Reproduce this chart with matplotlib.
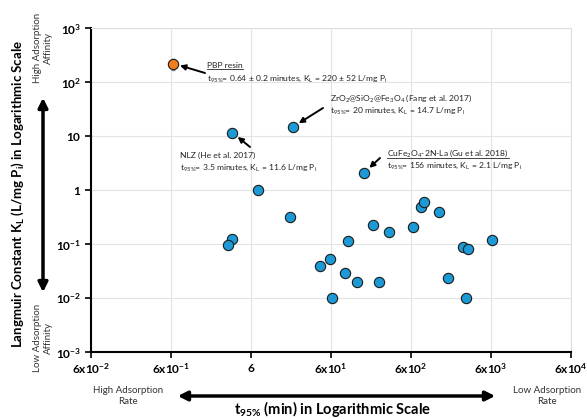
import numpy as np
import matplotlib
matplotlib.use("Agg")
import matplotlib.pyplot as plt
from matplotlib.patches import FancyArrowPatch
from matplotlib.lines import Line2D

plt.rcParams['font.family'] = ['Lato', 'DejaVu Sans']
plt.rcParams['mathtext.fontset'] = 'custom'
plt.rcParams['mathtext.rm'] = 'Lato'
plt.rcParams['mathtext.it'] = 'Lato:italic'
plt.rcParams['mathtext.bf'] = 'Lato:bold'

# datos
t95_lit = [3.5, 20, 156, 7.3, 18.7, 3.5, 3.1, 790, 880, 1330, 200, 316, 630, 99,
           6200, 2700, 3070, 59, 44, 90, 128, 237, 1720, 62, 2950]
kl_lit = [11.6, 14.7, 2.1, 1.0, 0.31, 0.122, 0.096, 0.48, 0.60, 0.39, 0.225, 0.167,
          0.21, 0.112, 0.117, 0.088, 0.081, 0.052, 0.039, 0.029, 0.0195, 0.0195,
          0.023, 0.01, 0.01]

t95_pbp = [0.64]
kl_pbp = [220]
kl_pbp_err = [52]

xticks = [6e-2, 6e-1, 6, 6e1, 6e2, 6e3, 6e4]
xticklabels = [r'$\mathbf{6x10^{-2}}$', r'$\mathbf{6x10^{-1}}$', r'$\mathbf{6}$',
               r'$\mathbf{6x10^{1}}$', r'$\mathbf{6x10^{2}}$', r'$\mathbf{6x10^{3}}$',
               r'$\mathbf{6x10^{4}}$']
yticks = [1e-3, 1e-2, 1e-1, 1, 10, 1e2, 1e3]
yticklabels = [r'$\mathbf{10^{-3}}$', r'$\mathbf{10^{-2}}$', r'$\mathbf{10^{-1}}$',
               r'$\mathbf{1}$', r'$\mathbf{10}$', r'$\mathbf{10^{2}}$', r'$\mathbf{10^{3}}$']

fig = plt.figure(figsize=(5.87, 4.19), dpi=100)
ax = fig.add_axes([91/587, 1-352/419, 480/587, 324/419])

ax.set_xscale('log')
ax.set_yscale('log')
ax.set_xlim(6e-2, 6e4)
ax.set_ylim(1e-3, 1e3)
ax.set_xticks(xticks)
ax.set_xticklabels(xticklabels, fontsize=8.6)
ax.set_yticks(yticks)
ax.set_yticklabels(yticklabels, fontsize=8.6)
ax.minorticks_off()
ax.grid(True, color='#e3e3e3', lw=0.8)
ax.set_axisbelow(True)
for s in ['top', 'right']:
    ax.spines[s].set_color('#dddddd')
    ax.spines[s].set_linewidth(0.8)
for s in ['left', 'bottom']:
    ax.spines[s].set_color('black')
    ax.spines[s].set_linewidth(1.5)
ax.tick_params(axis='both', direction='out', length=4, width=1.2, color='black', pad=3)

ax.scatter(t95_lit, kl_lit, s=55, color='#1d9ad6', edgecolors='#1a1a1a', linewidths=0.8, zorder=3)
ax.errorbar(t95_pbp, kl_pbp, yerr=kl_pbp_err, fmt='none',
            ecolor='#888888', elinewidth=0.8, capsize=1.5, zorder=2)
ax.scatter(t95_pbp, kl_pbp, s=55, color='#f07e1c', edgecolors='#1a1a1a', linewidths=0.8, zorder=4)

def fx(px):
    return (px - 91) / 480

def fy(py):
    return (352 - py) / 324

arrow = dict(arrowstyle='-|>', color='black', lw=1.4, shrinkA=0, shrinkB=5, mutation_scale=8)
fs = 6.1
tc = '#222222'

# anotaciones
ax.annotate('', xy=(t95_pbp[0], kl_pbp[0]), xytext=(fx(205), fy(73)), textcoords='axes fraction', arrowprops=arrow)
t1 = ax.text(fx(207), fy(66), 'PBP resin', transform=ax.transAxes, fontsize=fs, va='center', color=tc)
ax.text(fx(207), fy(79), r't$_{95\%}$= 0.64 ± 0.2 minutes, K$_\mathrm{L}$ = 220 ± 52 L/mg P$_\mathrm{i}$',
        transform=ax.transAxes, fontsize=fs, va='center', color=tc)

ax.annotate('', xy=(20, 14.7), xytext=(fx(323), fy(108)), textcoords='axes fraction', arrowprops=arrow)
ax.text(fx(330), fy(98), r'ZrO$_2$@SiO$_2$@Fe$_3$O$_4$ (Fang et al. 2017)', transform=ax.transAxes,
        fontsize=fs, va='center', color=tc)
ax.text(fx(330), fy(111), r't$_{95\%}$= 20 minutes, K$_\mathrm{L}$ = 14.7 L/mg P$_\mathrm{i}$',
        transform=ax.transAxes, fontsize=fs, va='center', color=tc)

ax.annotate('', xy=(3.5, 11.6), xytext=(fx(250), fy(147)), textcoords='axes fraction', arrowprops=arrow)
ax.text(fx(180), fy(155), 'NLZ (He et al. 2017)', transform=ax.transAxes, fontsize=fs, va='center', color=tc)
ax.text(fx(180), fy(168), r't$_{95\%}$= 3.5 minutes, K$_\mathrm{L}$ = 11.6 L/mg P$_\mathrm{i}$',
        transform=ax.transAxes, fontsize=fs, va='center', color=tc)

ax.annotate('', xy=(156, 2.1), xytext=(fx(380), fy(158)), textcoords='axes fraction', arrowprops=arrow)
t2 = ax.text(fx(387), fy(153), r'CuFe$_2$O$_4$-2N-La (Gu et al. 2018)', transform=ax.transAxes,
             fontsize=fs, va='center', color=tc)
ax.text(fx(387), fy(166), r't$_{95\%}$= 156 minutes, K$_\mathrm{L}$ = 2.1 L/mg P$_\mathrm{i}$',
        transform=ax.transAxes, fontsize=fs, va='center', color=tc)

# titulos de ejes y flechas
fig.text(18/587, 1-194/419, r'Langmuir Constant K$_\mathbf{L}$ (L/mg P$_\mathbf{i}$) in Logarithmic Scale',
         rotation=90, ha='center', va='center', fontsize=9.5, fontweight='bold')
fig.text(333/587, 1-409/419, r't$_\mathbf{95\%}$ (min) in Logarithmic Scale',
         ha='center', va='center', fontsize=10.5, fontweight='bold')

fig.add_artist(FancyArrowPatch((43/587, 1-95/419), (43/587, 1-295/419), transform=fig.transFigure,
                               arrowstyle='<|-|>', mutation_scale=14, lw=2.5, color='black'))
fig.add_artist(FancyArrowPatch((175/587, 1-396/419), (498/587, 1-396/419), transform=fig.transFigure,
                               arrowstyle='<|-|>', mutation_scale=14, lw=2.5, color='black'))

fig.text(43/587, 1-48/419, 'High Adsorption\nAffinity', rotation=90, ha='center', va='center',
         fontsize=7, color='#333333', multialignment='center')
fig.text(43/587, 1-338/419, 'Low Adsorption\nAffinity', rotation=90, ha='center', va='center',
         fontsize=7, color='#333333', multialignment='center')
fig.text(128/587, 1-396/419, 'High Adsorption\nRate', ha='center', va='center',
         fontsize=7, color='#333333', multialignment='center')
fig.text(547/587, 1-396/419, 'Low Adsorption\nRate', ha='center', va='center',
         fontsize=7, color='#333333', multialignment='center')

# subrayado
fig.canvas.draw()
r = fig.canvas.get_renderer()
for t in [t1, t2]:
    bb = t.get_window_extent(r).transformed(fig.transFigure.inverted())
    fig.add_artist(Line2D([bb.x0, bb.x1], [bb.y0 + 0.002, bb.y0 + 0.002], transform=fig.transFigure,
                          color=tc, lw=0.6))

fig.savefig('out.png', dpi=100)
